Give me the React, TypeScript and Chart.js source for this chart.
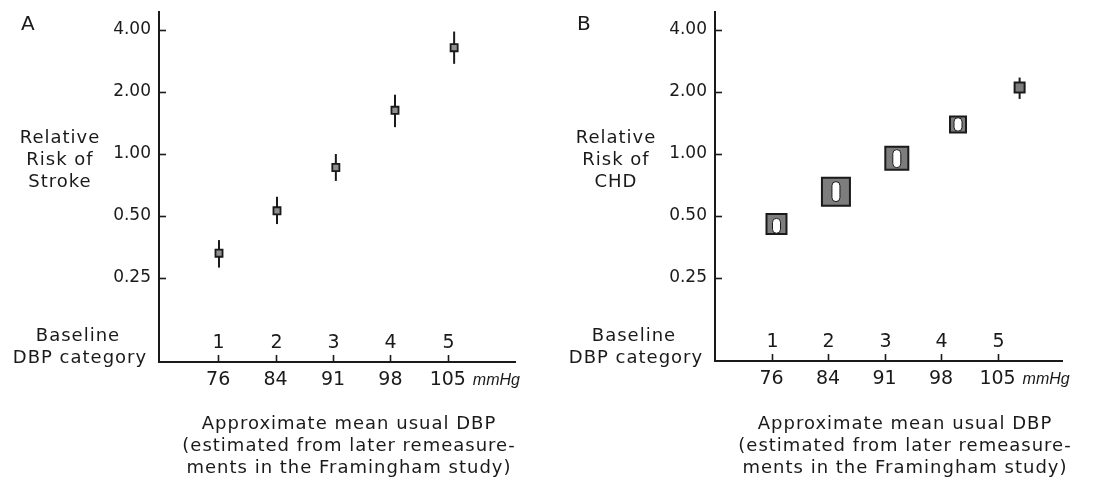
import React, { useEffect, useRef } from 'react';
import { Chart, registerables } from 'chart.js';

Chart.register(...registerables);

// ---------- data ----------
const categoryLabels = ['1', '2', '3', '4', '5'];
const mmHgLabels = ['76', '84', '91', '98', '105'];
const yTickValues = [0.25, 0.5, 1, 2, 4];

// Panel A: stroke
const strokeX = [1.015, 2.025, 3.05, 4.08, 5.11];
const strokeRR = [0.33, 0.53, 0.86, 1.63, 3.28];
const strokeLo = [0.281, 0.457, 0.74, 1.35, 2.74];
const strokeHi = [0.382, 0.62, 1.0, 1.94, 3.93];

// Panel B: CHD
const chdX = [1.088, 2.14, 3.217, 4.3, 5.39];
const chdRR = [0.457, 0.655, 0.953, 1.39, 2.1];
const chdLo = [0.412, 0.587, 0.858, 1.29, 1.85];
const chdHi = [0.487, 0.734, 1.05, 1.5, 2.35];
const chdBoxSide = [22, 30, 25, 18, 12];

const FONT = '"DejaVu Sans", sans-serif';
const INK = '#1a1a1a';

type Panel = {
  letter: string;
  yTitle: string[];
  x: number[];
  rr: number[];
  lo: number[];
  hi: number[];
  radii: number[];
  fill: string;
  borderW: number;
  ovals: boolean;
  canvasW: number;
  axisLeft: number;
  axisRight: number;
  axisTop: number;
  axisBottom: number;
  xMin: number;
  xMax: number;
  yMin: number;
  yMax: number;
};

function makeChart(canvas: HTMLCanvasElement, p: Panel) {
  const decor = {
    id: 'panelDecor',
    beforeDatasetsDraw(chart: any) {
      const ctx = chart.ctx;
      const xs = chart.scales.x;
      const ys = chart.scales.y;
      ctx.save();
      ctx.strokeStyle = INK;
      ctx.lineWidth = 2;
      p.x.forEach((xv, i) => {
        const px = xs.getPixelForValue(xv);
        const top = ys.getPixelForValue(p.hi[i]);
        const bot = ys.getPixelForValue(p.lo[i]);
        const side = p.radii[i] * Math.SQRT2;
        if (!p.ovals || bot - top > side) {
          ctx.beginPath();
          ctx.moveTo(px, top);
          ctx.lineTo(px, bot);
          ctx.stroke();
        }
      });
      ctx.restore();
    },
    afterDatasetsDraw(chart: any) {
      if (!p.ovals) return;
      const ctx = chart.ctx;
      const xs = chart.scales.x;
      const ys = chart.scales.y;
      ctx.save();
      p.x.forEach((xv, i) => {
        const px = xs.getPixelForValue(xv);
        const top = ys.getPixelForValue(p.hi[i]);
        const bot = ys.getPixelForValue(p.lo[i]);
        const side = p.radii[i] * Math.SQRT2;
        if (bot - top > side) return;
        const w = 8;
        ctx.beginPath();
        ctx.roundRect(px - w / 2, top, w, bot - top, w / 2);
        ctx.fillStyle = '#ffffff';
        ctx.fill();
        ctx.strokeStyle = INK;
        ctx.lineWidth = 1;
        ctx.stroke();
      });
      ctx.restore();
    },
    afterDraw(chart: any) {
      const ctx = chart.ctx;
      const xs = chart.scales.x;
      const ys = chart.scales.y;
      const L = chart.chartArea.left;
      const B = chart.chartArea.bottom;
      ctx.save();
      ctx.strokeStyle = INK;
      ctx.fillStyle = INK;
      ctx.lineWidth = 1.6;
      // inward y ticks
      yTickValues.forEach((v) => {
        const y = Math.round(ys.getPixelForValue(v)) + 0.5;
        ctx.beginPath();
        ctx.moveTo(L, y);
        ctx.lineTo(L + 7, y);
        ctx.stroke();
      });
      // upward x ticks + category numbers
      ctx.textAlign = 'center';
      ctx.textBaseline = 'middle';
      ctx.font = `19px ${FONT}`;
      categoryLabels.forEach((c, i) => {
        const x = Math.round(xs.getPixelForValue(i + 1)) + 0.5;
        ctx.beginPath();
        ctx.moveTo(x, B);
        ctx.lineTo(x, B - 7);
        ctx.stroke();
        ctx.fillText(c, x, B - 19);
      });
      // mmHg unit
      ctx.textAlign = 'left';
      ctx.font = `italic 16px "Liberation Sans", sans-serif`;
      ctx.fillText('mmHg', xs.getPixelForValue(5) + 25, B + 19);
      // panel letter
      ctx.font = `20px ${FONT}`;
      ctx.fillText(p.letter, L - 138, 25);
      // labels
      (ctx as any).letterSpacing = '1px';
      ctx.textAlign = 'center';
      ctx.font = `18px ${FONT}`;
      p.yTitle.forEach((t, i) => ctx.fillText(t, L - 99, 138 + 22 * i));
      ctx.fillText('Baseline', L - 81, 336);
      ctx.fillText('DBP category', L - 79, 358);
      const titleLines = [
        'Approximate mean usual DBP',
        '(estimated from later remeasure-',
        'ments in the Framingham study)',
      ];
      titleLines.forEach((t, i) => ctx.fillText(t, L + 190, 424 + 22 * i));
      (ctx as any).letterSpacing = '0px';
      ctx.restore();
    },
  };

  return new Chart(canvas, {
    type: 'scatter',
    data: {
      datasets: [
        {
          data: p.x.map((x, i) => ({ x, y: p.rr[i] })),
          pointStyle: 'rect',
          pointRadius: p.radii,
          pointHoverRadius: p.radii,
          backgroundColor: p.fill,
          borderColor: INK,
          borderWidth: p.borderW,
          showLine: false,
          clip: false,
        },
      ],
    },
    options: {
      animation: false,
      responsive: false,
      events: [],
      layout: {
        autoPadding: false,
        padding: { top: p.axisTop, right: p.canvasW - p.axisRight, left: 0, bottom: 0 },
      },
      plugins: { legend: { display: false }, tooltip: { enabled: false } },
      scales: {
        x: {
          type: 'linear',
          min: p.xMin,
          max: p.xMax,
          afterBuildTicks: (s: any) => {
            s.ticks = categoryLabels.map((_, i) => ({ value: i + 1 }));
          },
          afterFit: (s: any) => {
            s.height = 481 - p.axisBottom;
            s.paddingLeft = 0;
            s.paddingRight = 0;
            s.paddingTop = 0;
            s.paddingBottom = 0;
          },
          grid: { display: true, drawOnChartArea: false, drawTicks: false },
          border: { display: true, color: INK, width: 2 },
          ticks: {
            callback: (v: any) => mmHgLabels[Math.round(Number(v)) - 1],
            font: { family: FONT, size: 19 },
            color: INK,
            padding: 7,
            autoSkip: false,
            maxRotation: 0,
          },
        },
        y: {
          type: 'logarithmic',
          min: p.yMin,
          max: p.yMax,
          afterBuildTicks: (s: any) => {
            s.ticks = yTickValues.map((v) => ({ value: v }));
          },
          afterFit: (s: any) => {
            s.width = p.axisLeft;
            s.paddingTop = 0;
            s.paddingBottom = 0;
            s.paddingLeft = 0;
            s.paddingRight = 0;
          },
          grid: { display: true, drawOnChartArea: false, drawTicks: false },
          border: { display: true, color: INK, width: 2 },
          ticks: {
            callback: (v: any) => Number(v).toFixed(2),
            font: { family: FONT, size: 17 },
            color: INK,
            padding: 8,
            autoSkip: false,
          },
        },
      },
    },
    plugins: [decor],
  } as any);
}

const panelA: Panel = {
  letter: 'A',
  yTitle: ['Relative', 'Risk of', 'Stroke'],
  x: strokeX,
  rr: strokeRR,
  lo: strokeLo,
  hi: strokeHi,
  radii: strokeX.map(() => 5),
  fill: '#8f8f8f',
  borderW: 1.8,
  ovals: false,
  canvasW: 547,
  axisLeft: 159,
  axisRight: 515,
  axisTop: 12,
  axisBottom: 362,
  xMin: -0.03,
  xMax: 6.17,
  yMin: 0.0978,
  yMax: 4.89,
};

const panelB: Panel = {
  letter: 'B',
  yTitle: ['Relative', 'Risk of', 'CHD'],
  x: chdX,
  rr: chdRR,
  lo: chdLo,
  hi: chdHi,
  radii: chdBoxSide.map((s) => (s - 2) / Math.SQRT2),
  fill: '#7d7d7d',
  borderW: 2,
  ovals: true,
  canvasW: 548,
  axisLeft: 168,
  axisRight: 515,
  axisTop: 12,
  axisBottom: 361,
  xMin: 0,
  xMax: 6.14,
  yMin: 0.0988,
  yMax: 4.89,
};

export default function App() {
  const refA = useRef<HTMLCanvasElement>(null);
  const refB = useRef<HTMLCanvasElement>(null);
  useEffect(() => {
    const a = makeChart(refA.current as HTMLCanvasElement, panelA);
    const b = makeChart(refB.current as HTMLCanvasElement, panelB);
    return () => {
      a.destroy();
      b.destroy();
    };
  }, []);
  return (
    <div style={{ position: 'absolute', left: 0, top: 0, width: 1095, height: 481, background: '#ffffff' }}>
      <canvas ref={refA} width={547} height={481} style={{ position: 'absolute', left: 0, top: 0 }} />
      <canvas ref={refB} width={548} height={481} style={{ position: 'absolute', left: 547, top: 0 }} />
    </div>
  );
}
